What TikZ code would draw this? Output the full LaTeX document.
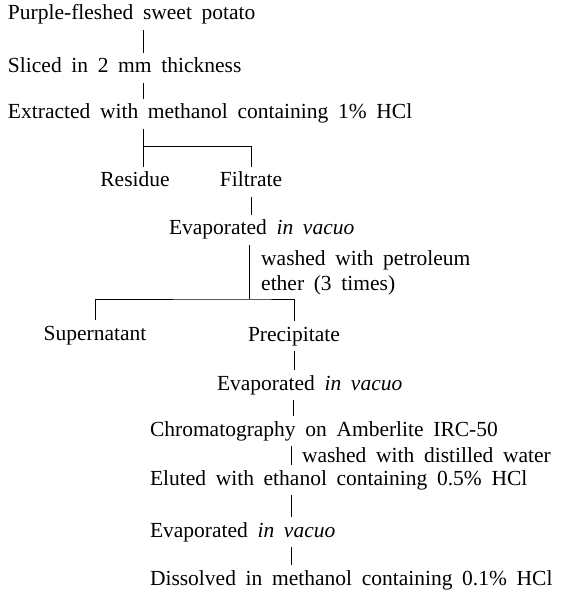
\documentclass[tikz,border=0pt]{standalone}
\usepackage{fontspec}
\setmainfont{Liberation Serif}
\newcommand{\fs}{\fontsize{21.5}{25}\selectfont\spaceskip=0.45em plus 0.1em\relax}
\tikzset{
  txt/.style={inner sep=0pt, outer sep=0pt, text height=14pt, text depth=4pt, font=\fs},
  conn/.style={line width=0.8pt, shorten <=6pt, shorten >=6pt},
}
\begin{document}
\begin{tikzpicture}[x=1pt,y=-1pt]
\useasboundingbox (0,0) rectangle (569,593);
% nodes
\node[txt, anchor=west] (n1) at (8,15) {Purple-fleshed sweet potato};
\node[txt, anchor=west] (n2) at (8,68) {Sliced in 2 mm thickness};
\node[txt, anchor=west] (n3) at (8,114) {Extracted with methanol containing 1\% HCl};
\node[txt] (n4) at (135,182) {Residue};
\node[txt] (n5) at (251,182) {Filtrate};
\node[txt, anchor=west] (n6) at (169,230) {Evaporated \textit{in vacuo}};
\node[inner sep=0pt, anchor=north west, align=left, font=\fs] (w1) at (261,250) {washed with petroleum\\ether (3 times)};
\node[txt] (n7) at (95,335) {Supernatant};
\node[txt] (n8) at (294,336) {Precipitate};
\node[txt, anchor=west] (n9) at (217,385) {Evaporated \textit{in vacuo}};
\node[txt, anchor=west] (n10) at (150,431) {Chromatography on Amberlite IRC-50};
\node[txt, anchor=west] (w2) at (302,457) {washed with distilled water};
\node[txt, anchor=west] (n11) at (150,480) {Eluted with ethanol containing 0.5\% HCl};
\node[txt, anchor=west] (n12) at (150,532) {Evaporated \textit{in vacuo}};
\node[txt, anchor=west] (n13) at (150,580) {Dissolved in methanol containing 0.1\% HCl};
% junction coordinates
\coordinate (x1) at (143,146);
\coordinate (x2) at (249,299);
\coordinate (x3) at (293,0);
\coordinate (x4) at (291,0);
% connectors
\draw[conn] (x1 |- n1.south) -- (x1 |- n2.north);
\draw[conn] (x1 |- n2.south) -- (x1 |- n3.north);
\draw[conn] (x1 |- n3.south) -- (x1 |- n4.north);
\draw[conn, shorten <=0pt] (x1) -| (n5.north);
\draw[conn] (n5.south) -- (n5.south |- n6.north);
\draw[conn, shorten >=0pt] (x2 |- n6.south) -- (x2);
\draw[conn] (n7.north) |- (x2) -| (n8.north);
\draw[conn] (n8.south) -- (n8.south |- n9.north);
\draw[conn] (x3 |- n9.south) -- (x3 |- n10.north);
\draw[conn] (x4 |- n10.south) -- (x4 |- n11.north);
\draw[conn] (x4 |- n11.south) -- (x4 |- n12.north);
\draw[conn] (x4 |- n12.south) -- (x4 |- n13.north);
\end{tikzpicture}
\end{document}
